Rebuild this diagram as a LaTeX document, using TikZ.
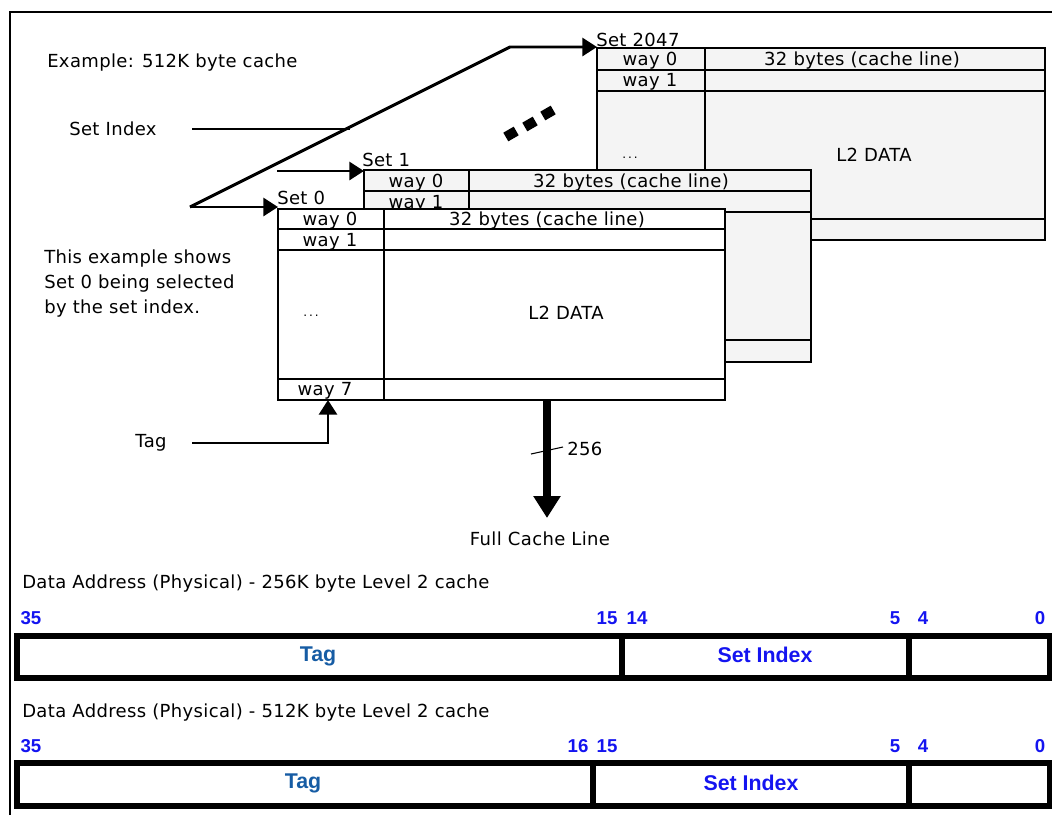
\documentclass[tikz,border=0pt]{standalone}
\usepackage{fontspec}
\setmainfont{DejaVu Sans}[LetterSpace=2]
\newfontfamily\arialf{Liberation Sans}
\usetikzlibrary{arrows.meta}
\definecolor{boxgray}{RGB}{244,244,244}
\definecolor{numblue}{RGB}{20,20,240}
\definecolor{tagblue}{RGB}{22,92,164}
\begin{document}
\begin{tikzpicture}[x=0.75pt,y=-0.75pt,
  txt/.style={font=\fontsize{13.5}{16}\selectfont, inner sep=0pt, yshift=-1.5pt},
  dots/.style={font=\fontsize{9}{10}\selectfont, inner sep=0pt},
  num/.style={font=\arialf\bfseries\fontsize{14}{16}\selectfont, text=numblue, inner sep=0pt},
  fld/.style={font=\arialf\bfseries\fontsize{16}{18}\selectfont, inner sep=0pt, yshift=-1.5pt},
  setbox/.style={line width=2.2pt},
  rowline/.style={line width=1.6pt},
  wire/.style={line width=2.2pt},
  arr/.style={wire, -{Triangle[length=11pt,width=13.5pt]}},
  regbox/.style={line width=4.5pt},
]
\useasboundingbox (0,0) rectangle (1052,815);
% frame
\draw[line width=1.5pt] (10,815) -- (10,12) -- (1052,12);

% texts left
\node[txt, anchor=west] (example) at (47,61) {Example: 512K byte cache};
\node[txt, anchor=west] (setidxlbl) at (69,127) {Set Index};
\node[txt, anchor=north west, align=left, font=\fontsize{13.5}{18.75}\selectfont] (explain) at (44,248)
  {This example shows\\Set 0 being selected\\by the set index.};
\node[txt] (taglbl) at (151,441) {Tag};

% ---- Set 2047
\filldraw[setbox, fill=boxgray] (597,48) rectangle (1045,240);
\draw[rowline] (597,70) -- (1045,70) (597,91) -- (1045,91) (597,219) -- (1045,219);
\draw[rowline] (705,48) -- (705,240);
\node[txt, anchor=west] (s2lbl) at (596,38) {Set 2047};
\node[txt] (s2w0) at (650,59) {way 0};
\node[txt] (s2w1) at (650,80) {way 1};
\node[txt] (s2line) at (862,59) {32 bytes (cache line)};
\node[txt] (s2data) at (874,153) {L2 DATA};
\node[dots] (s2dots) at (630,158) {.\,.\,.};

% ---- Set 1
\filldraw[setbox, fill=boxgray] (364,170) rectangle (811,362);
\draw[rowline] (364,191) -- (811,191) (364,212) -- (811,212) (364,340) -- (811,340);
\draw[rowline] (469,170) -- (469,362);
\node[txt, anchor=west] (s1lbl) at (362,158) {Set 1};
\node[txt] (s1w0) at (416,181) {way 0};
\node[txt] (s1w1) at (416,202) {way 1};
\node[txt] (s1line) at (631,181) {32 bytes (cache line)};

% ---- Set 0
\filldraw[setbox, fill=white] (278,209) rectangle (725,400);
\draw[rowline] (278,229) -- (725,229) (278,250) -- (725,250) (278,379) -- (725,379);
\draw[rowline] (384,209) -- (384,400);
\node[txt, anchor=west] (s0lbl) at (277,196) {Set 0};
\node[txt] (s0w0) at (330,219) {way 0};
\node[txt] (s0w1) at (330,240) {way 1};
\node[dots] (s0dots) at (311,316) {.\,.\,.};
\node[txt] (s0w7) at (325,389) {way 7};
\node[txt] (s0line) at (547,219) {32 bytes (cache line)};
\node[txt] (s0data) at (566,311) {L2 DATA};

% ---- connectors
\coordinate (fork) at (190,207);
\coordinate (bend) at (510,47);
\coordinate (s2in) at (597,47);
\coordinate (s0in) at (278,207);
\coordinate (s1src) at (277,171);
\coordinate (s1in) at (364,171);
\coordinate (siA) at (192,129);
\coordinate (siB) at (350,129);
\coordinate (tagA) at (192,443);
\coordinate (tagB) at (328,443);
\coordinate (w7in) at (328,400);
\coordinate (outA) at (547,400);
\coordinate (outB) at (547,518);
\coordinate (slA) at (531,454);
\coordinate (slB) at (563,447);

\draw[arr, line join=miter] (fork) -- (bend) -- (s2in);
\draw[arr] (fork) -- (s0in);
\draw[arr] (s1src) -- (s1in);
\draw[wire] (siA) -- (siB);
\draw[arr] (tagA) -- (tagB) -- (w7in);
\draw[line width=5.5pt, -{Triangle[length=16.5pt,width=19.5pt]}] (outA) -- (outB);
\draw[line width=0.8pt] (slA) -- (slB);
\node[txt, anchor=west] (bits256) at (567,447) {256};
\node[txt] (fullline) at (540,537) {Full Cache Line};

% ellipsis squares
\foreach \p in {(511,134),(530,124),(548,113)}
  \fill[shift={\p}, rotate=30] (-6,-5) rectangle (6,5);

% ---- address 256K
\node[txt, anchor=west] (addr1) at (22,582) {Data Address (Physical) - 256K byte Level 2 cache};
\node[num] (a1n35) at (31,618) {35};
\node[num] (a1n15) at (607,618) {15};
\node[num] (a1n14) at (637,618) {14};
\node[num] (a1n5) at (895,618) {5};
\node[num] (a1n4) at (923,618) {4};
\node[num] (a1n0) at (1040,618) {0};
\draw[regbox] (16.5,636) rectangle (1050,678);
\draw[regbox] (622,636) -- (622,678) (909,636) -- (909,678);
\node[fld, text=tagblue] (a1tag) at (318,654) {Tag};
\node[fld, text=numblue] (a1set) at (765,653) {Set Index};

% ---- address 512K
\node[txt, anchor=west] (addr2) at (22,711) {Data Address (Physical) - 512K byte Level 2 cache};
\node[num] (a2n35) at (31,746) {35};
\node[num] (a2n16) at (578,746) {16};
\node[num] (a2n15) at (607,746) {15};
\node[num] (a2n5) at (895,746) {5};
\node[num] (a2n4) at (923,746) {4};
\node[num] (a2n0) at (1040,746) {0};
\draw[regbox] (16.5,763) rectangle (1050,806);
\draw[regbox] (593,763) -- (593,806) (909,763) -- (909,806);
\node[fld, text=tagblue] (a2tag) at (303,781) {Tag};
\node[fld, text=numblue] (a2set) at (751,781) {Set Index};
\end{tikzpicture}
\end{document}
